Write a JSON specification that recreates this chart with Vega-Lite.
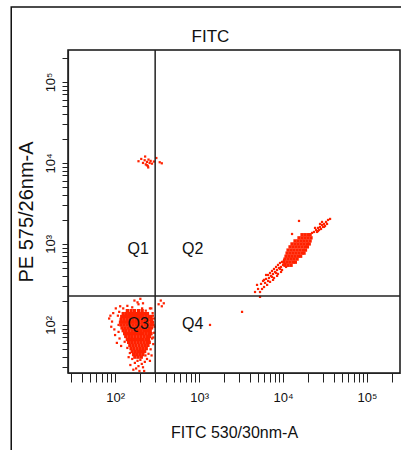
{
  "$schema": "https://vega.github.io/schema/vega-lite/v6.json",
  "width": 332,
  "height": 323,
  "autosize": {"type": "none"},
  "padding": {"left": 68, "top": 50, "right": 1, "bottom": 77},
  "background": "white",
  "config": {
    "font": "Liberation Sans",
    "view": {"stroke": "#111111", "strokeWidth": 1.5},
    "axis": {"grid": false, "domainColor": "#222222", "domainWidth": 1.2, "tickColor": "#222222", "labelColor": "#111111", "titleColor": "#111111", "titleFontWeight": "normal", "labelOverlap": false, "labelFlush": false, "labelBound": false}
  },
  "resolve": {"axis": {"x": "independent", "y": "independent"}},
  "datasets": {
    "one": [{"k": 1}],
    "q3core": [
      {"y": 150, "x": [140, 155, 170, 190, 210]},
      {"y": 138, "x": [125, 136, 148, 161, 175, 190, 206, 224, 243]},
      {"y": 127, "x": [120, 130, 141, 153, 166, 180, 196, 213, 232, 252, 268]},
      {"y": 117, "x": [118, 128, 139, 151, 164, 178, 193, 210, 228, 248, 270]},
      {"y": 108, "x": [116, 126, 137, 149, 162, 176, 191, 208, 226, 246, 268, 280]},
      {"y": 100, "x": [118, 128, 139, 151, 164, 178, 193, 210, 228, 248, 270]},
      {"y": 92, "x": [121, 131, 142, 154, 167, 181, 197, 214, 233, 253, 272]},
      {"y": 85, "x": [125, 135, 147, 160, 174, 189, 205, 223, 242, 262]},
      {"y": 78, "x": [130, 141, 153, 166, 180, 196, 213, 232, 252, 268]},
      {"y": 72, "x": [134, 146, 158, 172, 187, 203, 221, 240, 258]},
      {"y": 66, "x": [140, 152, 165, 180, 196, 213, 232, 250]},
      {"y": 61, "x": [145, 158, 172, 187, 203, 221, 240, 255]},
      {"y": 56, "x": [150, 163, 177, 193, 210, 228, 246]},
      {"y": 51, "x": [155, 168, 183, 199, 216, 235]},
      {"y": 47, "x": [160, 174, 190, 207, 225]},
      {"y": 43, "x": [166, 181, 197, 214]},
      {"y": 40, "x": [172, 188, 205]},
      {"y": 1300, "x": [16840, 18280, 19840, 21000]},
      {"y": 1190, "x": [15500, 16840, 18280, 19840, 21540]},
      {"y": 1090, "x": [13900, 15090, 16400, 17780, 19300, 21000]},
      {"y": 1000, "x": [12800, 13900, 15090, 16400, 17780, 19300, 20500]},
      {"y": 920, "x": [12120, 13160, 14280, 15500, 16840, 18280, 19500]},
      {"y": 840, "x": [11480, 12470, 13520, 14700, 15940, 17300, 18500]},
      {"y": 770, "x": [11170, 12120, 13160, 14280, 15500, 16840, 17780]},
      {"y": 705, "x": [10860, 11800, 12800, 13900, 15090, 16200]},
      {"y": 650, "x": [10560, 11480, 12470, 13520, 14700]},
      {"y": 595, "x": [10280, 11170, 12120, 13160, 14000]},
      {"y": 545, "x": [10560, 11480, 12470]}
    ],
    "sparse": [
      {"x": 85, "y": 120}, {"x": 90, "y": 95}, {"x": 95, "y": 140}, {"x": 100, "y": 75}, {"x": 92, "y": 110},
      {"x": 105, "y": 60}, {"x": 102, "y": 160}, {"x": 98, "y": 88}, {"x": 118, "y": 55}, {"x": 115, "y": 170},
      {"x": 125, "y": 160}, {"x": 140, "y": 172}, {"x": 160, "y": 165}, {"x": 190, "y": 180}, {"x": 210, "y": 160},
      {"x": 232, "y": 150}, {"x": 260, "y": 160}, {"x": 280, "y": 140}, {"x": 290, "y": 120}, {"x": 295, "y": 95},
      {"x": 285, "y": 70}, {"x": 265, "y": 50}, {"x": 250, "y": 44}, {"x": 240, "y": 38}, {"x": 226, "y": 35},
      {"x": 208, "y": 33}, {"x": 190, "y": 31}, {"x": 172, "y": 34}, {"x": 160, "y": 38}, {"x": 150, "y": 45},
      {"x": 140, "y": 52}, {"x": 130, "y": 62}, {"x": 178, "y": 29}, {"x": 195, "y": 27}, {"x": 215, "y": 30},
      {"x": 165, "y": 28}, {"x": 110, "y": 82}, {"x": 88, "y": 130}, {"x": 285, "y": 58}, {"x": 272, "y": 42},
      {"x": 108, "y": 130}, {"x": 112, "y": 145}, {"x": 282, "y": 130}, {"x": 288, "y": 100}, {"x": 200, "y": 37},
      {"x": 152, "y": 32}, {"x": 222, "y": 27}, {"x": 330, "y": 180}, {"x": 360, "y": 170}, {"x": 380, "y": 185},
      {"x": 350, "y": 200}, {"x": 185, "y": 190}, {"x": 200, "y": 210}, {"x": 170, "y": 200}, {"x": 215, "y": 185},
      {"x": 110, "y": 100}, {"x": 113, "y": 68}, {"x": 270, "y": 160}, {"x": 292, "y": 80}, {"x": 276, "y": 68},
      {"x": 185, "y": 36}, {"x": 230, "y": 42}, {"x": 145, "y": 40}, {"x": 260, "y": 36},
      {"x": 190, "y": 10500}, {"x": 205, "y": 11200}, {"x": 215, "y": 10000}, {"x": 225, "y": 10800}, {"x": 232, "y": 9600},
      {"x": 240, "y": 10300}, {"x": 245, "y": 9200}, {"x": 250, "y": 11000}, {"x": 258, "y": 10000}, {"x": 265, "y": 10600},
      {"x": 275, "y": 9800}, {"x": 290, "y": 10400}, {"x": 310, "y": 11500}, {"x": 340, "y": 10200}, {"x": 360, "y": 9900},
      {"x": 228, "y": 12000}, {"x": 248, "y": 8800}, {"x": 238, "y": 9400},
      {"x": 1350, "y": 100}, {"x": 3250, "y": 145}, {"x": 5320, "y": 222}, {"x": 4640, "y": 255},
      {"x": 5040, "y": 278}, {"x": 5320, "y": 255}, {"x": 4900, "y": 312}, {"x": 5470, "y": 321}, {"x": 5620, "y": 278},
      {"x": 5780, "y": 349}, {"x": 6110, "y": 330}, {"x": 6280, "y": 370}, {"x": 5940, "y": 294}, {"x": 6460, "y": 312},
      {"x": 6810, "y": 380}, {"x": 7000, "y": 340}, {"x": 6630, "y": 414}, {"x": 7190, "y": 403}, {"x": 7600, "y": 426},
      {"x": 7810, "y": 380}, {"x": 7390, "y": 464}, {"x": 8030, "y": 451}, {"x": 7600, "y": 360}, {"x": 8490, "y": 477},
      {"x": 8710, "y": 426}, {"x": 8260, "y": 520}, {"x": 8950, "y": 506}, {"x": 8490, "y": 403}, {"x": 9460, "y": 520},
      {"x": 9730, "y": 477}, {"x": 9200, "y": 582}, {"x": 10000, "y": 551}, {"x": 9460, "y": 451}, {"x": 10560, "y": 566},
      {"x": 10860, "y": 520}, {"x": 10280, "y": 634}, {"x": 11170, "y": 600}, {"x": 6280, "y": 414}, {"x": 7000, "y": 438},
      {"x": 7810, "y": 491}, {"x": 8710, "y": 551}, {"x": 9730, "y": 600}, {"x": 5940, "y": 360}, {"x": 6630, "y": 349},
      {"x": 7390, "y": 392}, {"x": 8260, "y": 438}, {"x": 9200, "y": 491}, {"x": 10280, "y": 551},
      {"x": 15490, "y": 1923}, {"x": 12800, "y": 1327}, {"x": 22140, "y": 1368},
      {"x": 23390, "y": 1406}, {"x": 24720, "y": 1489}, {"x": 26120, "y": 1578}, {"x": 27570, "y": 1622}, {"x": 29130, "y": 1718},
      {"x": 30780, "y": 1766}, {"x": 32500, "y": 1870}, {"x": 34350, "y": 1977}, {"x": 25410, "y": 1406}, {"x": 26850, "y": 1489},
      {"x": 28340, "y": 1531}, {"x": 29940, "y": 1622}, {"x": 31620, "y": 1667}, {"x": 27570, "y": 1766}, {"x": 29130, "y": 1870},
      {"x": 24040, "y": 1578}, {"x": 33410, "y": 1766}, {"x": 36310, "y": 2036}, {"x": 26120, "y": 1445}, {"x": 30780, "y": 1622}
    ],
    "quadrants": [
      {"q": "Q1", "x": 188, "y": 867},
      {"q": "Q2", "x": 838, "y": 867},
      {"q": "Q3", "x": 188, "y": 103},
      {"q": "Q4", "x": 838, "y": 103}
    ]
  },
  "layer": [
    {
      "data": {"name": "one"},
      "mark": {"type": "rect", "fill": "transparent", "stroke": "#111111", "strokeWidth": 1.5, "clip": false},
      "encoding": {
        "x": {"datum": 5.8, "type": "quantitative", "axis": null},
        "x2": {"datum": 1000000000},
        "y": {"datum": 840000, "type": "quantitative", "axis": null},
        "y2": {"datum": 0.001}
      }
    },
    {
      "data": {"name": "q3core"},
      "transform": [{"flatten": ["x"]}],
      "mark": {"type": "square", "size": 11, "color": "#ff2200", "opacity": 1, "filled": true},
      "encoding": {
        "x": {
          "field": "x", "type": "quantitative",
          "scale": {"type": "log", "domain": [27.5, 247000], "nice": false},
          "axis": {
            "title": "FITC 530/30nm-A", "titleFontSize": 16, "titlePadding": 20,
            "values": [30, 40, 50, 60, 70, 80, 90, 100, 200, 300, 400, 500, 600, 700, 800, 900, 1000, 2000, 3000, 4000, 5000, 6000, 7000, 8000, 9000, 10000, 20000, 30000, 40000, 50000, 60000, 70000, 80000, 90000, 100000, 200000],
            "labelExpr": "datum.value==100?'10²':datum.value==1000?'10³':datum.value==10000?'10⁴':datum.value==100000?'10⁵':''",
            "labelFontSize": 13, "tickSize": 9, "labelPadding": 9
          }
        },
        "y": {
          "field": "y", "type": "quantitative",
          "scale": {"type": "log", "domain": [25.5, 248000], "nice": false},
          "axis": {
            "title": "PE 575/26nm-A", "titleFontSize": 20, "titlePadding": 8,
            "values": [30, 40, 50, 60, 70, 80, 90, 100, 200, 300, 400, 500, 600, 700, 800, 900, 1000, 2000, 3000, 4000, 5000, 6000, 7000, 8000, 9000, 10000, 20000, 30000, 40000, 50000, 60000, 70000, 80000, 90000, 100000, 200000],
            "labelExpr": "datum.value==100?'10²':datum.value==1000?'10³':datum.value==10000?'10⁴':datum.value==100000?'10⁵':''",
            "labelFontSize": 13, "labelAngle": -90, "tickSize": 6, "labelPadding": 5
          }
        }
      }
    },
    {
      "data": {"name": "sparse"},
      "mark": {"type": "square", "size": 5, "color": "#ff2200", "opacity": 1, "filled": true},
      "encoding": {
        "x": {"field": "x", "type": "quantitative", "axis": null},
        "y": {"field": "y", "type": "quantitative", "axis": null}
      }
    },
    {
      "data": {"name": "one"},
      "mark": {"type": "rule", "stroke": "#222222", "strokeWidth": 1.5},
      "encoding": {
        "x": {
          "datum": 300, "type": "quantitative",
          "axis": {"orient": "top", "title": "FITC", "titleFontSize": 17, "titlePadding": 5, "titleX": 142, "titleAnchor": "middle", "labels": false, "ticks": false, "domain": false}
        }
      }
    },
    {
      "data": {"name": "one"},
      "mark": {"type": "rule", "stroke": "#222222", "strokeWidth": 1.5},
      "encoding": {"y": {"datum": 228, "type": "quantitative", "axis": null}}
    },
    {
      "data": {"name": "quadrants"},
      "mark": {"type": "text", "fontSize": 16, "color": "#111111", "baseline": "middle", "align": "center"},
      "encoding": {
        "x": {"field": "x", "type": "quantitative", "axis": null},
        "y": {"field": "y", "type": "quantitative", "axis": null},
        "text": {"field": "q"}
      }
    }
  ]
}
